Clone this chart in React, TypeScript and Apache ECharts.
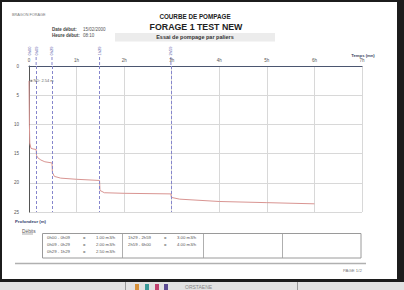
import React, { useEffect, useRef } from "react";
import * as echarts from "echarts";

// Pumping test: time since start (minutes) and water depth (m)
const timesMin = [0, 0.5, 1, 2.5, 5, 9, 9.5, 11, 15, 20, 29, 29.5, 32, 40, 60, 89, 89.5, 95, 120, 179, 179.5, 190, 240, 300, 360];
const depthsM = [2.54, 10, 13.2, 14.1, 14.2, 14.3, 15.3, 15.7, 16.1, 16.4, 16.6, 18.2, 18.9, 19.2, 19.4, 19.6, 21.3, 21.7, 21.8, 21.9, 22.5, 22.8, 23.2, 23.4, 23.6];
const staticLevel = 2.54;
const stepStartsMin = [0, 9, 29, 89, 179];
const stepLabels = ["0h00", "0h09", "0h29", "1h29", "2h59"];
const xTickHours = ["0", "1h", "2h", "3h", "4h", "5h", "6h", "7h"];
const periods = ["0h00 - 0h09", "0h09 - 0h29", "0h29 - 1h29", "1h29 - 2h59", "2h59 - 6h00"];
const flows = ["1.00 m3/h", "2.00 m3/h", "2.50 m3/h", "3.00 m3/h", "4.00 m3/h"];

const FONT = "'Liberation Sans', Arial, sans-serif";
const STEP_COLOR = "#8686cc";

export default function App() {
  const ref = useRef<HTMLDivElement>(null);
  useEffect(() => {
    const chart = echarts.init(ref.current!, null, { renderer: "svg" });
    const data = timesMin.map((t, i) => [t, depthsM[i]]);
    chart.setOption({
      animation: false,
      textStyle: { fontFamily: FONT },
      grid: { left: 29, right: 42, top: 66, bottom: 78 },
      xAxis: {
        type: "value",
        position: "top",
        min: 0,
        max: 420,
        interval: 60,
        axisLine: { show: true, lineStyle: { color: "#4b5670", width: 1 } },
        axisTick: { show: false },
        axisLabel: {
          fontSize: 4.5,
          color: "#555",
          margin: 3,
          formatter: (v: number) => xTickHours[Math.round(v / 60)] ?? "",
        },
        splitLine: { show: true, lineStyle: { color: "#d8d8d8", width: 1 } },
      },
      yAxis: {
        type: "value",
        inverse: true,
        min: 0,
        max: 25,
        interval: 5,
        axisLine: { show: true, lineStyle: { color: "#555", width: 1 } },
        axisTick: { show: false },
        axisLabel: { fontSize: 4.5, color: "#555", margin: 10 },
        splitLine: { show: true, lineStyle: { color: "#d8d8d8", width: 1 } },
      },
      series: [
        {
          type: "line",
          data,
          symbol: "none",
          showSymbol: false,
          lineStyle: { color: "#d99592", width: 1 },
          z: 3,
          markLine: {
            silent: true,
            symbol: "none",
            label: { show: false },
            lineStyle: { color: STEP_COLOR, type: [3, 2], width: 1 },
            data: stepStartsMin.slice(1).map((t) => ({ xAxis: t })),
          },
          markPoint: {
            silent: true,
            data: [
              {
                coord: [3, staticLevel],
                symbol: "rect",
                symbolSize: [2, 2],
                itemStyle: { color: "#888" },
                label: {
                  show: true,
                  position: "right",
                  distance: 1,
                  formatter: "ND: " + staticLevel.toFixed(2) + " m",
                  fontSize: 4,
                  color: "#666",
                },
              },
            ],
          },
        },
      ],
    });

    const stepXs = stepStartsMin.map((t) => chart.convertToPixel({ xAxisIndex: 0 }, t) as number);
    const stepTexts = stepXs.map((x, i) => ({
      type: "text",
      x,
      y: 51,
      rotation: Math.PI / 2,
      style: {
        text: stepLabels[i],
        fontSize: 4,
        fill: "#5a5aa8",
        align: "center",
        verticalAlign: "middle",
        fontFamily: FONT,
      },
    }));
    const stepTicks = stepXs.slice(1).map((x) => ({
      type: "line",
      shape: { x1: x, y1: 57, x2: x, y2: 66 },
      style: { stroke: STEP_COLOR, lineWidth: 1, lineDash: [3, 2] },
    }));

    const t = (text: string, x: number, y: number, size: number, opts: any = {}) => ({
      type: "text",
      x,
      y,
      style: {
        text,
        fontSize: size,
        fill: opts.fill ?? "#333",
        fontWeight: opts.bold ? "bold" : "normal",
        align: opts.align ?? "left",
        verticalAlign: "middle",
        fontFamily: FONT,
      },
    });

    const rowY = [237, 244, 251];
    const tableTexts: any[] = [];
    periods.forEach((p, i) => {
      const col = i < 3 ? 0 : 1;
      const row = i < 3 ? i : i - 3;
      const baseX = col === 0 ? 47 : 128;
      tableTexts.push(t(p, baseX, rowY[row], 4.3, { fill: "#555" }));
      tableTexts.push(t("=", baseX + 36, rowY[row], 4.3, { fill: "#555" }));
      tableTexts.push(t(flows[i], baseX + 49, rowY[row], 4.3, { fill: "#555" }));
    });

    chart.setOption({
      graphic: [
        t("BRAGON FORAGE", 12, 15, 3.8, { fill: "#777" }),
        t("COURBE DE POMPAGE", 195, 16.5, 6.3, { bold: true, align: "center", fill: "#222" }),
        t("FORAGE 1 TEST NEW", 196, 27, 8.8, { bold: true, align: "center", fill: "#222" }),
        t("Date début:", 52, 29.5, 4.5, { bold: true, fill: "#444" }),
        t("15/02/2000", 83, 29.5, 4.5, { fill: "#555" }),
        t("Heure début:", 52, 35, 4.5, { bold: true, fill: "#444" }),
        t("08:10", 83, 35, 4.5, { fill: "#555" }),
        {
          type: "rect",
          shape: { x: 115, y: 33, width: 160, height: 8.5 },
          style: { fill: "#ececec" },
          z: -1,
        },
        t("Essai de pompage par paliers", 195, 37.3, 5.5, { bold: true, align: "center", fill: "#333" }),
        ...stepTexts,
        ...stepTicks,
        t("Temps (mn)", 363, 55.5, 4.2, { bold: true, align: "center", fill: "#3a4560" }),
        t("Profondeur (m)", 15, 221, 4.3, { bold: true, fill: "#34406a" }),
        t("Débits", 22, 231.5, 4.8, { fill: "#555" }),
        {
          type: "line",
          shape: { x1: 22, y1: 234, x2: 33, y2: 234 },
          style: { stroke: "#777", lineWidth: 0.6 },
        },
        {
          type: "rect",
          shape: { x: 42.5, y: 233.5, width: 318.5, height: 24.5 },
          style: { fill: "none", stroke: "#9a9a9a", lineWidth: 1 },
        },
        ...[122, 203, 282].map((x) => ({
          type: "line",
          shape: { x1: x + 0.5, y1: 234, x2: x + 0.5, y2: 258 },
          style: { stroke: "#9a9a9a", lineWidth: 0.8 },
        })),
        ...tableTexts,
        {
          type: "line",
          shape: { x1: 15, y1: 263.5, x2: 366, y2: 263.5 },
          style: { stroke: "#b0b0b0", lineWidth: 1.5 },
        },
        t("PAGE 1/2", 343, 270, 4.3, { fill: "#777" }),
        // scene below the page
        ...[
          { x: 135, c: "#d8913a" },
          { x: 145, c: "#3a9a9a" },
          { x: 155, c: "#c2416e" },
          { x: 164, c: "#5b4b92" },
        ].map((b) => ({
          type: "rect",
          shape: { x: b.x, y: 284, width: 4, height: 6 },
          style: { fill: b.c },
        })),
        {
          type: "line",
          shape: { x1: 125.5, y1: 282, x2: 125.5, y2: 290 },
          style: { stroke: "#999", lineWidth: 1 },
        },
        {
          type: "line",
          shape: { x1: 297.5, y1: 282, x2: 297.5, y2: 290 },
          style: { stroke: "#999", lineWidth: 1 },
        },
        t("ORSTAENE", 185, 286.5, 5, { fill: "#888" }),
      ],
    });
    return () => chart.dispose();
  }, []);

  return (
    <div
      style={{
        position: "fixed",
        left: 0,
        top: 0,
        width: 404,
        height: 290,
        background: "#e2e2e2",
        overflow: "hidden",
      }}
    >
      <div style={{ position: "absolute", left: 0, top: 0, width: 404, height: 282, background: "#1c1c1c" }} />
      <div style={{ position: "absolute", left: 2, top: 2, width: 395, height: 277, background: "#ffffff" }} />
      <div ref={ref} style={{ position: "absolute", left: 0, top: 0, width: 404, height: 290 }} />
    </div>
  );
}
